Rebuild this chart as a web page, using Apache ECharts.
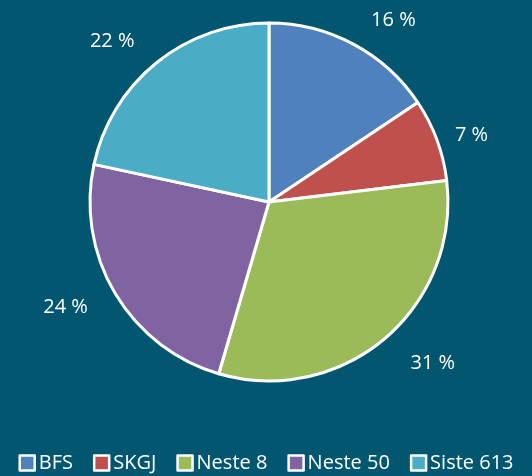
<!DOCTYPE html>
<html>
<head>
<meta charset="utf-8">
<style>
  html, body { margin: 0; padding: 0; background: #03566f; }
  #chart { width: 532px; height: 476px; }
</style>
<script src="https://cdn.jsdelivr.net/npm/echarts@6/dist/echarts.min.js"></script>
</head>
<body>
<div id="chart"></div>
<script>
  // ---------- data ----------
  var categories = ['BFS', 'SKGJ', 'Neste 8', 'Neste 50', 'Siste 613'];
  var shares     = [15.6, 7.45, 31.4, 23.8, 21.6];
  var colors     = ['#4f81bd', '#c0504d', '#9bbb59', '#8064a2', '#4bacc6'];
  var lineLen    = [27, 14, 32, 26, 27];

  var font = '"Open Sans", "Noto Sans", sans-serif';

  var chart = echarts.init(document.getElementById('chart'));

  var data = categories.map(function (name, i) {
    return {
      name: name,
      value: shares[i],
      itemStyle: { color: colors[i] },
      labelLine: { show: false, length: lineLen[i], length2: 0 }
    };
  });

  chart.setOption({
    backgroundColor: '#03566f',
    animation: false,
    legend: {
      data: categories,
      left: 'center',
      top: 453,
      padding: 0,
      itemWidth: 15,
      itemHeight: 15,
      itemGap: 20,
      icon: 'rect',
      itemStyle: { borderColor: '#ffffff', borderWidth: 2.5 },
      textStyle: { color: '#ffffff', fontSize: 20, fontFamily: font, padding: [0, 0, 0, -1] }
    },
    series: [
      {
        type: 'pie',
        center: [269, 202],
        radius: 179,
        startAngle: 90,
        clockwise: true,
        avoidLabelOverlap: false,
        itemStyle: { borderColor: '#ffffff', borderWidth: 3 },
        label: {
          show: true,
          position: 'outside',
          color: '#ffffff',
          fontSize: 20,
          fontFamily: font,
          formatter: function (p) { return Math.round(p.percent) + ' %'; }
        },
        labelLine: { show: false },
        emphasis: { disabled: true },
        data: data
      }
    ]
  });
</script>
</body>
</html>
